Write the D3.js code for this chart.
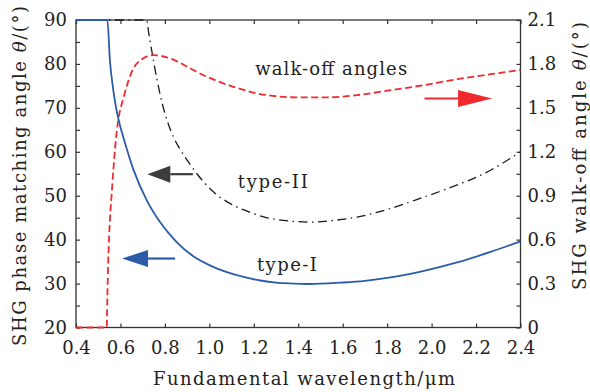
<!DOCTYPE html>
<html><head><meta charset="utf-8">
<script src="https://cdn.jsdelivr.net/npm/d3@7"></script>
<style>body{margin:0;background:#fff}svg{display:block}text{font-family:"DejaVu Serif",serif;fill:#222}</style>
</head><body><svg id="c" width="590" height="392"></svg>
<script>
// ---- data ----
const typeI_lambda = [0.40,0.541,0.553,0.568,0.583,0.598,0.613,0.658,0.718,0.778,0.854,0.928,1.004,1.079,1.154,1.229,1.30,1.379,1.45,1.589,1.70,1.815,1.966,2.115,2.265,2.40];
const typeI_angle  = [90,90,80.5,74.0,69.3,66.0,63.3,56.0,49.0,44.0,39.4,36.2,34.1,32.6,31.5,30.7,30.2,30.0,29.9,30.2,30.6,31.4,32.9,34.8,37.2,39.6];
const typeII_lambda = [0.40,0.718,0.728,0.745,0.765,0.790,0.815,0.840,0.868,0.914,0.944,1.018,1.094,1.169,1.244,1.30,1.394,1.46,1.544,1.67,1.815,1.966,2.06,2.265,2.40];
const typeII_angle  = [90,90,86.8,81.8,76.3,70.6,66.4,63.2,60.6,57.1,55.0,50.9,48.2,46.5,45.2,44.6,44.1,44.0,44.3,45.2,47.1,49.7,51.4,55.8,60.0];
const walkoff_lambda = [0.40,0.538,0.541,0.545,0.549,0.553,0.560,0.568,0.583,0.59,0.613,0.651,0.703,0.748,0.823,0.914,0.958,1.108,1.259,1.41,1.51,1.664,1.815,1.966,2.115,2.265,2.40];
const walkoff_angle  = [0,0,0.2,0.45,0.62,0.75,0.9,1.074,1.336,1.416,1.564,1.746,1.838,1.860,1.838,1.77,1.735,1.644,1.587,1.571,1.571,1.587,1.621,1.655,1.696,1.73,1.758];
const xTicks = [0.4,0.6,0.8,1.0,1.2,1.4,1.6,1.8,2.0,2.2,2.4];
const yLeftTicks = [20,30,40,50,60,70,80,90];
const yRightTicks = [0,0.3,0.6,0.9,1.2,1.5,1.8,2.1];
const labels = [
  {text:"walk-off angles", x:1.206, y:77.5, len:152},
  {text:"type-II", x:1.128, y:51.8, len:70},
  {text:"type-I", x:1.214, y:32.8, len:60}
];
// arrows: tail / tip wavelength, value, axis
const arrows = [
  {from:0.846, to:0.607, v:35.7, axis:"L", color:"#2a5caa", head:26},
  {from:0.926, to:0.721, v:54.9, axis:"L", color:"#3c3c3c", head:23},
  {from:1.968, to:2.272, v:1.564, axis:"R", color:"#ee2a2e", head:34}
];

// ---- layout ----
const L=76, R=520.5, T=20, B=327.5;
const FS="18px";
const svg=d3.select("#c");
const x=d3.scaleLinear().domain([0.4,2.4]).range([L,R]);
const yL=d3.scaleLinear().domain([20,90]).range([B,T]);
const yR=d3.scaleLinear().domain([0,2.1]).range([B,T]);
const axisColor="#333";

function styleAxis(g){ g.select(".domain").remove(); g.selectAll("line").attr("stroke",axisColor).attr("stroke-width",1.2); g.selectAll("text").style("font-size",FS).attr("fill","#222"); }
svg.append("g").attr("transform",`translate(0,${B})`)
  .call(d3.axisBottom(x).tickValues(xTicks).tickFormat(d3.format(".1f")).tickSizeInner(-4).tickSizeOuter(0).tickPadding(14))
  .call(styleAxis);
svg.append("g").attr("transform",`translate(0,${T})`)
  .call(d3.axisTop(x).tickValues(xTicks).tickFormat("").tickSizeInner(-4).tickSizeOuter(0))
  .call(styleAxis);
svg.append("g").attr("transform",`translate(${L},0)`)
  .call(d3.axisLeft(yL).tickValues(d3.range(20,90.1,5)).tickFormat(d=>yLeftTicks.includes(d)?d:"").tickSizeInner(-4).tickSizeOuter(0).tickPadding(9))
  .call(styleAxis);
svg.append("g").attr("transform",`translate(${R},0)`)
  .call(d3.axisRight(yR).tickValues(d3.range(0,2.101,0.15)).tickFormat(d=>{const m=yRightTicks.find(t=>Math.abs(t-d)<1e-6);return m===undefined?"":(m===0?"0":d3.format(".1f")(m));}).tickSizeInner(-4).tickSizeOuter(0).tickPadding(7))
  .call(styleAxis);
svg.append("rect").attr("x",L).attr("y",T).attr("width",R-L).attr("height",B-T)
  .attr("fill","none").attr("stroke",axisColor).attr("stroke-width",1.3);

// curves
const lineL=d3.line().x(d=>x(d[0])).y(d=>yL(d[1])).curve(d3.curveMonotoneX);
const lineR=d3.line().x(d=>x(d[0])).y(d=>yR(d[1])).curve(d3.curveMonotoneX);
svg.append("path").datum(d3.zip(typeII_lambda,typeII_angle)).attr("d",lineL)
  .attr("fill","none").attr("stroke","#1a1a1a").attr("stroke-width",1.3).attr("stroke-dasharray","9,4.5,1.5,4.5");
svg.append("path").datum(d3.zip(walkoff_lambda,walkoff_angle)).attr("d",lineR)
  .attr("fill","none").attr("stroke","#ee2a2e").attr("stroke-width",1.8).attr("stroke-dasharray","7,3.5");
svg.append("path").datum(d3.zip(typeI_lambda,typeI_angle)).attr("d",lineL)
  .attr("fill","none").attr("stroke","#2a5caa").attr("stroke-width",1.8);

// arrows
arrows.forEach(a=>{
  const ys=(a.axis==="L"?yL:yR)(a.v);
  const x0=x(a.from), x1=x(a.to), dir=Math.sign(x1-x0), hw=8.5;
  const xb=x1-dir*a.head;
  svg.append("line").attr("x1",x0).attr("x2",xb).attr("y1",ys).attr("y2",ys).attr("stroke",a.color).attr("stroke-width",2.2);
  svg.append("path").attr("d",`M${x1},${ys}L${xb},${ys-hw}L${xb},${ys+hw}Z`).attr("fill",a.color);
});

// annotations
labels.forEach(l=>svg.append("text").attr("x",x(l.x)).attr("y",yL(l.y)).style("font-size",FS)
  .attr("textLength",l.len).attr("lengthAdjust","spacing").text(l.text));

// axis titles
svg.append("text").attr("x",304).attr("y",385).attr("text-anchor","middle").style("font-size",FS)
  .attr("textLength",302).attr("lengthAdjust","spacing").text("Fundamental wavelength/μm");
svg.append("text").attr("transform","translate(26,176) rotate(-90)").attr("text-anchor","middle").style("font-size",FS)
  .attr("textLength",340).attr("lengthAdjust","spacing")
  .html('SHG phase matching angle <tspan font-style="italic">θ</tspan>/(°)');
svg.append("text").attr("transform","translate(586,156) rotate(-90)").attr("text-anchor","middle").style("font-size",FS)
  .attr("textLength",268).attr("lengthAdjust","spacing")
  .html('SHG walk-off angle <tspan font-style="italic">θ</tspan>/(°)');
</script></body></html>
